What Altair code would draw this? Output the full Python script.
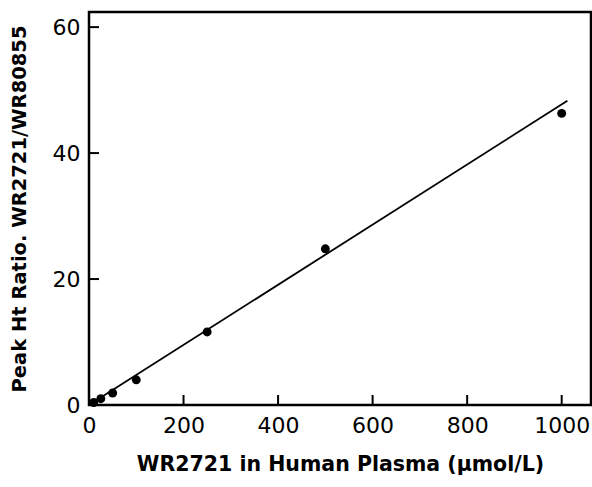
import altair as alt
import pandas as pd

# Data
conc = [10, 25, 50, 100, 250, 500, 1000]
ratio = [0.4, 1.0, 1.9, 4.0, 11.6, 24.8, 46.3]

fit_x = [5, 1012]
fit_y = [0.24, 48.3]

x_tick_values = [200, 400, 600, 800, 1000]
y_tick_values = [20, 40, 60]

x_label_values = [0, 200, 400, 600, 800, 1000]
y_label_values = [0, 20, 40, 60]

W, H = 502, 393

pts = pd.DataFrame({"x": conc, "y": ratio})
fit = pd.DataFrame({"x": fit_x, "y": fit_y})
xt = pd.DataFrame({"x": x_tick_values})
yt = pd.DataFrame({"y": y_tick_values})

xscale = alt.Scale(domain=[0, 1062], nice=False, zero=False)
yscale = alt.Scale(domain=[0, 62.4], nice=False, zero=False)

font = "DejaVu Sans"

xaxis = alt.Axis(values=x_label_values, ticks=False, domain=False, grid=False,
                 format="d",
                 labelFontSize=22, labelFont=font, labelColor="black",
                 labelPadding=10, labelFlush=False,
                 title="WR2721 in Human Plasma (μmol/L)",
                 titleFont=font, titleFontSize=20.5, titleFontWeight="bold",
                 titleColor="black", titlePadding=18)
yaxis = alt.Axis(values=y_label_values, ticks=False, domain=False, grid=False,
                 format="d",
                 labelFontSize=22, labelFont=font, labelColor="black",
                 labelPadding=9, labelFlush=False,
                 title="Peak Ht Ratio. WR2721/WR80855",
                 titleFont=font, titleFontSize=19.5, titleFontWeight="bold",
                 titleColor="black", titlePadding=23)

X = alt.X("x:Q", scale=xscale, axis=xaxis)
Y = alt.Y("y:Q", scale=yscale, axis=yaxis)

line = alt.Chart(fit).mark_line(color="black", strokeWidth=1.8).encode(x=X, y=Y)

points = alt.Chart(pts).mark_circle(size=80, color="black", opacity=1).encode(x=X, y=Y)

xticks = alt.Chart(xt).mark_rule(color="black", strokeWidth=2).encode(
    x=X,
    y=alt.value(H),
    y2=alt.value(H - 10),
)

yticks = alt.Chart(yt).mark_rule(color="black", strokeWidth=2).encode(
    y=Y,
    x=alt.value(0),
    x2=alt.value(10),
)

chart = alt.layer(line, xticks, yticks, points).properties(
    width=W, height=H,
    autosize=alt.AutoSizeParams(type="none"),
    padding={"left": 89, "top": 12, "right": 1, "bottom": 82},
    background="white",
).configure_view(stroke="black", strokeWidth=2.5)

chart.save("out.html", embed_options={"renderer": "svg", "actions": False})
